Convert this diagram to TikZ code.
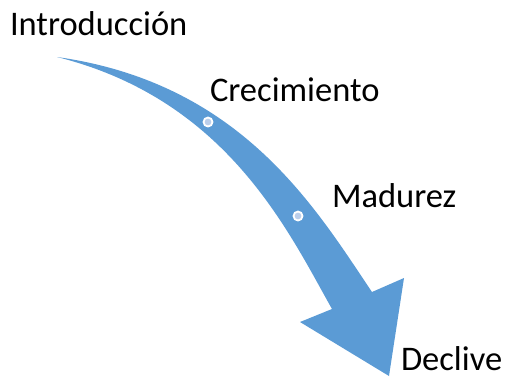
\documentclass[tikz,border=0pt]{standalone}
\usepackage{fontspec}
\setmainfont{Carlito}
\definecolor{arrowblue}{HTML}{5B9BD5}
\definecolor{dotblue}{HTML}{BCCFEB}

\begin{document}
\begin{tikzpicture}[x=1pt, y=-1pt,
  stage/.style={anchor=base west, inner sep=0pt, outer sep=0pt, font=\fontsize{34.5}{41}\selectfont},
  marker/.style={circle, fill=dotblue, draw=white, line width=1.8pt, minimum size=9pt, inner sep=0pt}]
\useasboundingbox (0,0) rectangle (509,378);

\fill[arrowblue] (57,57) .. controls (242,83) and (316,209) .. (372,292)
  -- (404,278) -- (389,376) -- (300,322) -- (332,309)
  .. controls (288,231) and (227,99.5) .. (57,57) -- cycle;

\node[marker] (dotA) at (208,122) {};
\node[marker] (dotB) at (298,216) {};

\node[stage] (intro) at (10,35.7) {Introducción};
\node[stage] (crec) at (210,101.5) {Crecimiento};
\node[stage] (madur) at (332,207.7) {Madurez};
\node[stage] (decl) at (401,370.5) {Declive};
\end{tikzpicture}
\end{document}
